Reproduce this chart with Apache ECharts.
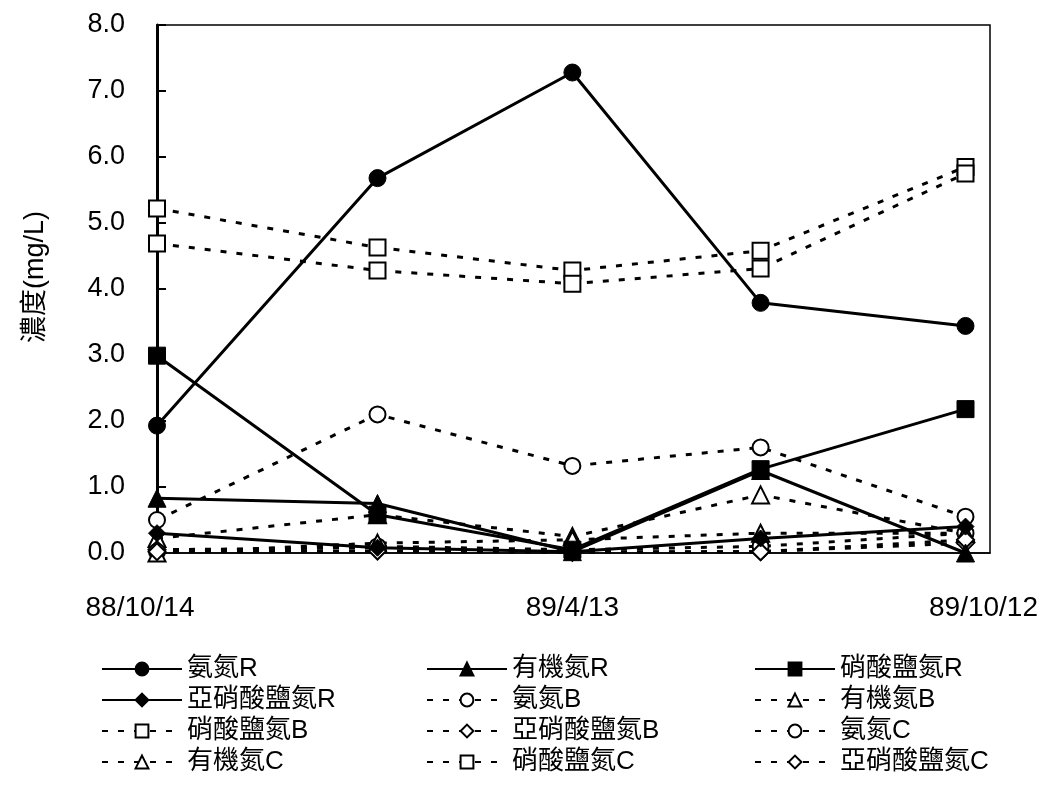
<!DOCTYPE html>
<html>
<head>
<meta charset="utf-8">
<script src="https://cdn.jsdelivr.net/npm/echarts@6/dist/echarts.min.js"></script>
<style>html,body{margin:0;padding:0;background:#fff;}#c{width:1061px;height:789px;}</style>
</head>
<body>
<div id="c"></div>
<script>
// sampling dates and their positions along the time axis
const dates = ['88/10/14', '', '89/4/13', '', '89/10/12'];
const xPos = [0, 99, 186.5, 271, 363];
const labelPos = [0, 186.5, 363];

const nh3R = [1.93, 5.68, 7.28, 3.79, 3.44];
const orgR = [0.83, 0.75, 0.02, 1.25, 0.0];
const no3R = [2.99, 0.58, 0.05, 1.27, 2.18];
const no2R = [0.30, 0.08, 0.02, 0.22, 0.40];

const nh3B = [0.50, 2.10, 1.32, 1.60, 0.55];
const orgB = [0.22, 0.58, 0.25, 0.88, 0.30];
const no3B = [5.22, 4.63, 4.28, 4.58, 5.85];
const no2B = [0.05, 0.08, 0.02, 0.02, 0.15];

const nh3C = [0.02, 0.10, 0.05, 0.10, 0.30];
const orgC = [0.00, 0.15, 0.20, 0.30, 0.30];
const no3C = [4.69, 4.28, 4.08, 4.31, 5.75];
const no2C = [0.02, 0.03, 0.01, 0.02, 0.20];

function pts(v) { return v.map((y, i) => [xPos[i], y]); }

function solid(name, data, symbol, size) {
  return {
    name, type: 'line', data: pts(data), symbol, symbolSize: size,
    lineStyle: { color: '#000', width: 3, type: 'solid' },
    itemStyle: { color: '#000', borderColor: '#000', borderWidth: 1 },
    z: 5
  };
}
function dashed(name, data, symbol, size) {
  return {
    name, type: 'line', data: pts(data), symbol, symbolSize: size,
    lineStyle: { color: '#000', width: 3, type: [6, 10] },
    itemStyle: { color: '#fff', borderColor: '#000', borderWidth: 2 },
    z: 4
  };
}

const series = [
  solid('氨氮R', nh3R, 'circle', 17),
  solid('有機氮R', orgR, 'triangle', 18),
  solid('硝酸鹽氮R', no3R, 'rect', 17),
  solid('亞硝酸鹽氮R', no2R, 'diamond', 17),
  dashed('氨氮B', nh3B, 'circle', 16),
  dashed('有機氮B', orgB, 'triangle', 17),
  dashed('硝酸鹽氮B', no3B, 'rect', 16),
  dashed('亞硝酸鹽氮B', no2B, 'diamond', 17),
  dashed('氨氮C', nh3C, 'circle', 16),
  dashed('有機氮C', orgC, 'triangle', 17),
  dashed('硝酸鹽氮C', no3C, 'rect', 16),
  dashed('亞硝酸鹽氮C', no2C, 'diamond', 17)
];

const font = "'Liberation Sans', 'Noto Sans CJK TC', Arial, sans-serif";
function legendCol(left, names) {
  return {
    orient: 'vertical', left, top: 651, itemGap: 5, itemWidth: 80, itemHeight: 16,
    data: names, selectedMode: false,
    textStyle: { fontSize: 26, lineHeight: 26, color: '#000', fontFamily: font }
  };
}

const chart = echarts.init(document.getElementById('c'), null, { renderer: 'canvas' });
chart.setOption({
  backgroundColor: '#fff',
  animation: false,
  textStyle: { fontFamily: font },
  grid: { left: 157, top: 25, right: 71, bottom: 236, show: true, borderColor: '#000', borderWidth: 1.5, backgroundColor: 'transparent' },
  xAxis: {
    type: 'value', min: 0, max: 374,
    axisLine: { show: true, onZero: false, lineStyle: { color: '#000', width: 1.5 } },
    axisTick: { show: false },
    splitLine: { show: false },
    axisLabel: {
      customValues: labelPos, margin: 41, fontSize: 28, color: '#000', fontFamily: font,
      formatter: v => {
        const i = xPos.indexOf(v);
        if (i < 0) return '';
        const k = i === 0 ? 'a' : (i === xPos.length - 1 ? 'c' : 'b');
        return '{' + k + '|' + dates[i] + '}';
      },
      rich: {
        a: { fontSize: 28, fontFamily: font, color: '#000', padding: [0, 34, 0, 0] },
        b: { fontSize: 28, fontFamily: font, color: '#000' },
        c: { fontSize: 28, fontFamily: font, color: '#000', padding: [0, 0, 0, 36] }
      }
    }
  },
  yAxis: {
    type: 'value', min: 0, max: 8, interval: 1,
    name: '濃度(mg/L)', nameLocation: 'middle', nameGap: 108, nameRotate: 90,
    nameTextStyle: { fontSize: 27, color: '#000', fontFamily: font, padding: [0, 0, 0, 24] },
    axisLine: { show: true, lineStyle: { color: '#000', width: 3 } },
    axisTick: { show: true, inside: true, length: 9, lineStyle: { color: '#000', width: 2 } },
    splitLine: { show: false },
    axisLabel: { margin: 32, fontSize: 27, color: '#000', fontFamily: font, formatter: v => v.toFixed(1) }
  },
  legend: [
    legendCol(96, ['氨氮R', '亞硝酸鹽氮R', '硝酸鹽氮B', '有機氮C']),
    legendCol(421, ['有機氮R', '氨氮B', '亞硝酸鹽氮B', '硝酸鹽氮C']),
    legendCol(749, ['硝酸鹽氮R', '有機氮B', '氨氮C', '亞硝酸鹽氮C'])
  ],
  series
});
</script>
</body>
</html>
